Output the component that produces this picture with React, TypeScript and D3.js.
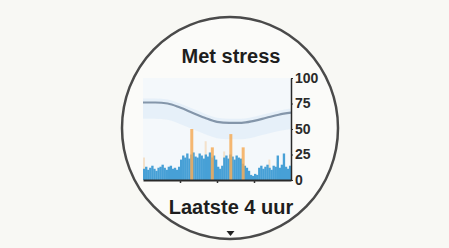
import React, { useEffect, useRef } from "react";
import * as d3 from "d3";

// stress per 200 s bin over the last 4 hours (72 bins)
const restStress = [
  11, 13, 10, 12, 14, 11, 9, 12, 13, 15, 12, 10, 13, 14, 11, 12, 10, 13,
  20, 24, 22, 26, 21, 25, 27, 23, 22, 26, 24, 21, 25, 23, 27, 22, 24, 20,
  13, 11, 14,
  22, 24, 21, 25, 23, 20, 24, 22, 21,
  16, 14, 12, 9,
  5, 4, 6, 5,
  12, 14, 11, 13, 15, 12, 10, 14, 13, 24, 12, 15, 26, 13, 11, 14,
];

// orange spikes: bin index + value
const highBins = [23, 33, 42, 48];
const highValues = [50, 32, 45, 32];
const faintBins = [0, 30, 39, 61, 65];
const faintValues = [22, 38, 28, 20, 18];

// the smooth trend line, one point every 20 minutes
const trendMinutes = [0, 20, 40, 60, 80, 100, 120, 140, 160, 180, 200, 220, 240];
const trendValues = [76, 76, 75, 71, 66, 61, 57, 56, 56, 58, 61, 64, 66];

const yTicks = [0, 25, 50, 75, 100];
const xTicks = [60, 120, 180];

const W = 449, H = 248;

function StressChart() {
  const ref = useRef<SVGSVGElement>(null);

  useEffect(() => {
    const svg = d3.select(ref.current);
    svg.selectAll("*").remove();

    const left = 143, right = 291;
    const y = d3.scaleLinear().domain([0, 100]).range([180, 78]);
    const xb = d3.scaleBand<number>()
      .domain(d3.range(restStress.length))
      .range([left, right])
      .padding(0);
    const xt = d3.scaleLinear().domain([0, 240]).range([left, right]);

    // page + watch face
    svg.append("rect").attr("width", W).attr("height", H).attr("fill", "#f8f8f4");
    svg.append("ellipse")
      .attr("cx", 230).attr("cy", 128).attr("rx", 108).attr("ry", 111)
      .attr("fill", "#fbfbf9")
      .attr("stroke", "#4a4a4a").attr("stroke-width", 2.5);

    // pale plot background
    svg.append("rect")
      .attr("x", left).attr("y", y(100))
      .attr("width", right - left).attr("height", y(0) - y(100))
      .attr("fill", "#f4f8fb");

    // band under the trend line
    const band = d3.area<number>()
      .x((d, i) => xt(trendMinutes[i]))
      .y0(d => y(d - 16))
      .y1(d => y(d + 4))
      .curve(d3.curveMonotoneX);
    svg.append("path").datum(trendValues)
      .attr("d", band)
      .attr("fill", "#e0edf8").attr("opacity", 0.7);

    // faint orange bars
    svg.append("g").selectAll("rect")
      .data(faintValues)
      .enter().append("rect")
      .attr("x", (d, i) => xb(faintBins[i])!)
      .attr("y", d => y(d))
      .attr("width", 2)
      .attr("height", d => y(0) - y(d))
      .attr("fill", "#f5c58e").attr("opacity", 0.45);

    // blue bars
    svg.append("g").selectAll("rect")
      .data(restStress)
      .enter().append("rect")
      .attr("x", (d, i) => xb(i)!)
      .attr("y", d => y(d))
      .attr("width", xb.bandwidth() + 0.3)
      .attr("height", d => y(0) - y(d))
      .attr("fill", "#47a0d6");

    // orange spikes
    svg.append("g").selectAll("rect")
      .data(highValues)
      .enter().append("rect")
      .attr("x", (d, i) => xb(highBins[i])!)
      .attr("y", d => y(d))
      .attr("width", 3)
      .attr("height", d => y(0) - y(d))
      .attr("fill", "#f4ac58").attr("opacity", 0.85);

    // trend line
    const line = d3.line<number>()
      .x((d, i) => xt(trendMinutes[i]))
      .y(d => y(d))
      .curve(d3.curveMonotoneX);
    svg.append("path").datum(trendValues)
      .attr("d", line)
      .attr("fill", "none")
      .attr("stroke", "#8496aa").attr("stroke-width", 2.2);

    // x axis (baseline + hour ticks)
    const xAxis = svg.append("g")
      .attr("transform", `translate(0,${y(0)})`)
      .call(d3.axisBottom(xt).tickValues(xTicks).tickSize(3).tickFormat(() => "").tickSizeOuter(0));
    xAxis.select(".domain").attr("stroke", "#2a2a2a").attr("stroke-width", 2);
    xAxis.selectAll(".tick line").attr("stroke", "#333").attr("stroke-width", 1.5);

    // y axis on the right
    const yAxis = svg.append("g")
      .attr("transform", `translate(${right},0)`)
      .call(d3.axisRight(y).tickValues(yTicks).tickSize(2).tickPadding(2).tickSizeOuter(0));
    yAxis.select(".domain").attr("stroke", "#2a2a2a").attr("stroke-width", 1.5);
    yAxis.selectAll(".tick line").attr("stroke", "#2a2a2a");
    yAxis.selectAll("text")
      .attr("fill", "#2a2a2a")
      .style("font-family", '"Liberation Sans", Arial, sans-serif')
      .style("font-weight", "bold")
      .style("font-size", "14px");

    // texts
    svg.append("text")
      .attr("x", 231).attr("y", 63)
      .attr("text-anchor", "middle")
      .style("font-family", '"Liberation Sans", Arial, sans-serif')
      .style("font-weight", "bold")
      .style("font-size", "20px")
      .attr("fill", "#1e1e1e")
      .text("Met stress");

    svg.append("text")
      .attr("x", 231).attr("y", 214)
      .attr("text-anchor", "middle")
      .style("font-family", '"Liberation Sans", Arial, sans-serif')
      .style("font-weight", "bold")
      .style("font-size", "20px")
      .attr("fill", "#1e1e1e")
      .text("Laatste 4 uur");

    // little down arrow
    svg.append("path")
      .attr("d", "M226.5,231 L234.5,231 L230.5,236 Z")
      .attr("fill", "#222");
  }, []);

  return <svg ref={ref} width={W} height={H} style={{ position: "absolute", left: 0, top: 0 }} />;
}

export default function App() {
  return <StressChart />;
}
